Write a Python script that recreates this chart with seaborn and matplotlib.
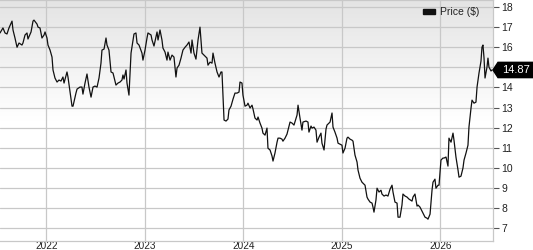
import numpy as np
import pandas as pd
import matplotlib
matplotlib.use("Agg")
import matplotlib.pyplot as plt
import seaborn as sns
from matplotlib.colors import LinearSegmentedColormap
from matplotlib.patches import Patch, Polygon

# ---- data (fractional year, price $) ----
years = [
    2021.530, 2021.560, 2021.581, 2021.601, 2021.621, 2021.652, 2021.662, 2021.682, 2021.703, 2021.723,
    2021.753, 2021.763, 2021.784, 2021.804, 2021.814, 2021.845, 2021.865, 2021.875, 2021.906, 2021.916,
    2021.936, 2021.956, 2021.977, 2021.987, 2022.007, 2022.017, 2022.038, 2022.058, 2022.068, 2022.088,
    2022.109, 2022.129, 2022.149, 2022.169, 2022.180, 2022.210, 2022.220, 2022.241, 2022.261, 2022.271,
    2022.301, 2022.312, 2022.342, 2022.362, 2022.372, 2022.393, 2022.413, 2022.433, 2022.454, 2022.474,
    2022.494, 2022.515, 2022.535, 2022.555, 2022.565, 2022.586, 2022.606, 2022.616, 2022.636, 2022.657,
    2022.677, 2022.707, 2022.728, 2022.748, 2022.768, 2022.778, 2022.789, 2022.809, 2022.819, 2022.839,
    2022.850, 2022.860, 2022.880, 2022.890, 2022.910, 2022.921, 2022.941, 2022.971, 2022.981, 2023.002,
    2023.022, 2023.032, 2023.063, 2023.073, 2023.093, 2023.113, 2023.124, 2023.134, 2023.154, 2023.174,
    2023.184, 2023.205, 2023.225, 2023.235, 2023.256, 2023.276, 2023.296, 2023.316, 2023.327, 2023.347,
    2023.367, 2023.387, 2023.408, 2023.428, 2023.448, 2023.469, 2023.479, 2023.499, 2023.519, 2023.540,
    2023.560, 2023.580, 2023.611, 2023.631, 2023.641, 2023.662, 2023.682, 2023.692, 2023.712, 2023.733,
    2023.753, 2023.773, 2023.783, 2023.804, 2023.824, 2023.844, 2023.854, 2023.875, 2023.895, 2023.915,
    2023.936, 2023.956, 2023.966, 2023.986, 2023.996, 2024.017, 2024.037, 2024.047, 2024.068, 2024.088,
    2024.098, 2024.118, 2024.139, 2024.149, 2024.169, 2024.189, 2024.199, 2024.220, 2024.240, 2024.250,
    2024.271, 2024.291, 2024.301, 2024.321, 2024.342, 2024.352, 2024.372, 2024.392, 2024.402, 2024.423,
    2024.443, 2024.463, 2024.474, 2024.494, 2024.514, 2024.545, 2024.555, 2024.575, 2024.595, 2024.605,
    2024.636, 2024.656, 2024.666, 2024.687, 2024.697, 2024.717, 2024.737, 2024.748, 2024.768, 2024.788,
    2024.798, 2024.819, 2024.839, 2024.849, 2024.880, 2024.900, 2024.910, 2024.930, 2024.951, 2024.961,
    2024.981, 2025.001, 2025.011, 2025.032, 2025.052, 2025.062, 2025.083, 2025.103, 2025.113, 2025.133,
    2025.154, 2025.164, 2025.184, 2025.204, 2025.214, 2025.235, 2025.255, 2025.265, 2025.286, 2025.306,
    2025.316, 2025.326, 2025.346, 2025.357, 2025.377, 2025.397, 2025.407, 2025.428, 2025.448, 2025.468,
    2025.489, 2025.509, 2025.519, 2025.539, 2025.560, 2025.570, 2025.590, 2025.610, 2025.620, 2025.641,
    2025.661, 2025.681, 2025.712, 2025.722, 2025.742, 2025.763, 2025.773, 2025.793, 2025.813, 2025.823,
    2025.844, 2025.864, 2025.874, 2025.895, 2025.915, 2025.925, 2025.945, 2025.955, 2025.976, 2025.986,
    2026.006, 2026.026, 2026.037, 2026.057, 2026.077, 2026.087, 2026.108, 2026.128, 2026.138, 2026.158,
    2026.179, 2026.189, 2026.209, 2026.229, 2026.240, 2026.260, 2026.280, 2026.290, 2026.311, 2026.321,
    2026.341, 2026.361, 2026.372, 2026.392, 2026.412, 2026.422, 2026.432, 2026.443, 2026.453, 2026.473,
    2026.483, 2026.493, 2026.514, 2026.524,
]
prices = [
    16.71, 16.96, 16.71, 16.66, 16.96, 17.30, 16.86, 16.46, 16.00, 16.21,
    16.11, 16.21, 16.61, 16.71, 16.41, 16.76, 17.30, 17.35, 17.15, 17.00,
    16.96, 16.46, 16.61, 16.76, 16.46, 16.11, 15.86, 15.51, 14.87, 14.47,
    14.27, 14.37, 14.32, 14.52, 14.22, 14.77, 14.52, 13.77, 13.07, 13.07,
    13.72, 13.92, 14.02, 14.02, 13.67, 14.22, 14.67, 14.02, 13.52, 14.02,
    14.07, 14.02, 14.47, 15.21, 15.86, 15.91, 16.46, 16.11, 15.86, 14.77,
    14.72, 14.12, 14.22, 14.27, 14.37, 14.62, 14.42, 14.87, 14.22, 13.62,
    14.77, 15.71, 16.36, 16.66, 16.71, 16.21, 16.11, 15.71, 15.36, 15.86,
    16.46, 16.71, 16.61, 16.36, 16.06, 16.51, 16.76, 16.36, 16.86, 16.36,
    15.96, 15.76, 15.36, 15.76, 15.36, 15.61, 15.51, 14.52, 14.97, 15.11,
    15.46, 15.86, 16.00, 16.11, 16.26, 15.71, 16.36, 15.71, 15.41, 16.36,
    17.00, 15.71, 15.56, 15.46, 15.11, 15.26, 15.21, 15.71, 15.21, 14.77,
    14.52, 14.77, 14.77, 12.38, 12.33, 12.43, 12.88, 13.07, 13.42, 13.72,
    13.72, 13.77, 14.27, 14.22, 13.62, 13.07, 13.12, 13.22, 12.98, 13.12,
    12.93, 12.48, 12.38, 12.53, 12.23, 11.98, 11.73, 11.63, 11.98, 10.98,
    10.89, 10.59, 10.34, 10.74, 11.28, 11.48, 11.48, 11.43, 11.33, 11.48,
    11.68, 12.08, 12.28, 12.23, 12.13, 12.63, 13.12, 12.48, 11.88, 12.28,
    12.33, 12.28, 11.78, 12.08, 11.98, 12.03, 11.88, 11.28, 11.53, 11.73,
    11.23, 10.89, 11.93, 12.13, 12.28, 12.73, 12.03, 11.78, 11.48, 11.23,
    11.18, 11.13, 10.74, 10.98, 11.48, 11.53, 11.43, 11.38, 11.33, 10.64,
    10.29, 9.89, 9.49, 9.29, 9.24, 9.14, 8.55, 8.45, 8.30, 8.25,
    8.05, 7.80, 8.40, 8.99, 8.80, 8.89, 8.70, 8.60, 8.65, 8.60,
    8.94, 9.14, 8.80, 8.30, 8.25, 7.55, 7.55, 8.15, 8.70, 8.60,
    8.55, 8.45, 8.35, 8.55, 8.70, 8.10, 8.15, 8.05, 7.85, 7.75,
    7.55, 7.50, 7.45, 7.70, 8.89, 9.29, 9.44, 8.99, 9.14, 9.14,
    10.39, 10.49, 10.49, 10.54, 10.09, 11.48, 11.28, 11.73, 11.38, 10.54,
    9.89, 9.54, 9.59, 9.99, 10.39, 10.74, 11.13, 12.03, 12.98, 13.37,
    13.22, 13.27, 14.02, 14.72, 15.31, 16.00, 16.11, 15.46, 14.47, 15.01,
    15.46, 15.01, 14.82, 14.87,
]
year_ticks = [2022, 2023, 2024, 2025, 2026]
price_ticks = [7, 8, 9, 10, 11, 12, 13, 14, 15, 16, 17, 18]
price_labels = ["7", "8", "9", "10", "11", "12", "13", "14", "", "16", "17", "18"]  # 15 hidden under price tag
last_price = 14.87
series_name = "Price ($)"

df = pd.DataFrame({"year": years, "price": prices})

sns.set_theme(style="white")
plt.rcParams["font.family"] = ["Liberation Sans", "DejaVu Sans"]

W, H = 533, 250
fig = plt.figure(figsize=(W / 100, H / 100), dpi=100)
ax = fig.add_axes([0.0, (H - 240.7) / H, 493 / W, 240.7 / H])

x0, x1 = 2021.53, 2026.534
y0, y1 = 6.38, 18.35

# gradient background
cmap = LinearSegmentedColormap.from_list("bg", ["#ffffff", "#ffffff", "#e4e4e4"])
grad = np.linspace(0, 1, 256).reshape(-1, 1)
ax.imshow(grad, cmap=cmap, extent=[x0, x1, y0, y1], origin="lower",
          aspect="auto", zorder=0, interpolation="bilinear")

sns.lineplot(data=df, x="year", y="price", ax=ax, color="#111111",
             linewidth=0.9, zorder=3, legend=False)

ax.set_xlim(x0, x1)
ax.set_ylim(y0, y1)
ax.set_xticks(year_ticks)
ax.set_xticklabels([str(y) for y in year_ticks])
ax.set_yticks(price_ticks)
ax.set_yticklabels(price_labels)
ax.yaxis.tick_right()
ax.set_xlabel("")
ax.set_ylabel("")

grid_c = "#c8c8c8"
ax.grid(True, color=grid_c, linewidth=0.9, zorder=1)
ax.set_axisbelow(True)
for side in ["top", "right", "bottom"]:
    ax.spines[side].set_visible(True)
    ax.spines[side].set_color(grid_c)
    ax.spines[side].set_linewidth(0.9)
ax.spines["left"].set_visible(False)

ax.tick_params(axis="y", which="both", right=True, left=False, length=4,
               width=0.8, color="#555555", pad=2, labelsize=7.5, labelcolor="#222222")
ax.tick_params(axis="x", which="both", bottom=False, length=0, pad=0,
               labelsize=7.2, labelcolor="#222222")

# legend
handle = Patch(facecolor="#111111", edgecolor="#111111")
leg = ax.legend([handle], [series_name], loc="upper right",
                bbox_to_anchor=(0.985, 0.995), frameon=False, fontsize=7.5,
                handlelength=1.1, handleheight=0.4, handletextpad=0.5,
                borderaxespad=0.2)
for t in leg.get_texts():
    t.set_color("#222222")

# last price marker
tr = ax.get_yaxis_transform()
xr = 533 / 493
xb = 498 / 493
h = 0.38
poly = Polygon([[1.0, last_price], [xb, last_price + h], [xr, last_price + h],
                [xr, last_price - h], [xb, last_price - h]], closed=True,
               transform=tr, clip_on=False, facecolor="black", edgecolor="black", zorder=5)
ax.add_patch(poly)
ax.text(515.5 / 493, last_price, f"{last_price:.2f}", transform=tr, color="white",
        fontsize=8, ha="center", va="center", clip_on=False, zorder=6)

fig.savefig("out.png", dpi=100)
